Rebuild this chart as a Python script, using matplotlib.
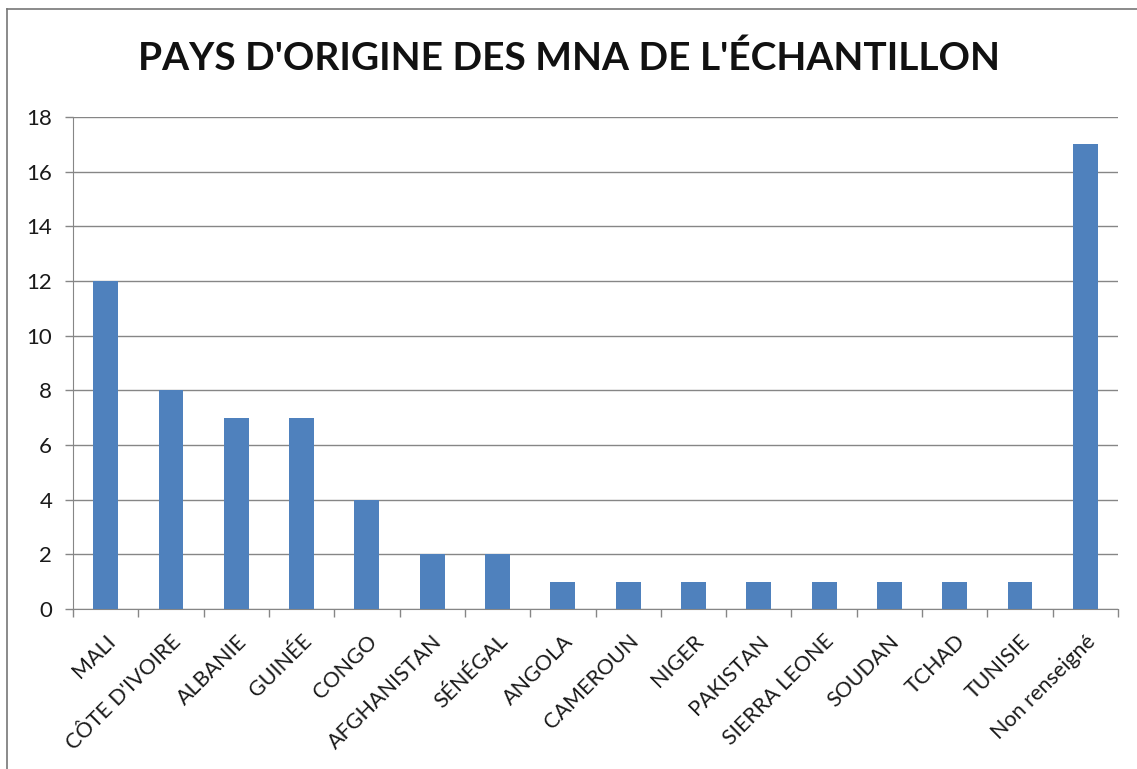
import numpy as np
import matplotlib
matplotlib.use("Agg")
from matplotlib import pyplot as plt
from matplotlib.lines import Line2D

pays = ["MALI", "CÔTE D'IVOIRE", "ALBANIE", "GUINÉE", "CONGO", "AFGHANISTAN",
        "SÉNÉGAL", "ANGOLA", "CAMEROUN", "NIGER", "PAKISTAN", "SIERRA LEONE",
        "SOUDAN", "TCHAD", "TUNISIE", "Non renseigné"]
effectifs = [12, 8, 7, 7, 4, 2, 2, 1, 1, 1, 1, 1, 1, 1, 1, 17]
yticks = [0, 2, 4, 6, 8, 10, 12, 14, 16, 18]

plt.rcParams['font.family'] = ['Lato', 'DejaVu Sans']
grey = '#868686'

fig = plt.figure(figsize=(11.37, 7.69), dpi=100)
ax = fig.add_axes([73/1137, 1 - 609/769, (1118-73)/1137, (609-117)/769])

x = np.arange(len(pays))
ax.bar(x, effectifs, width=0.38, color='#4F81BD', zorder=3)

ax.set_xlim(-0.5, len(pays) - 0.5)
ax.set_ylim(0, 18)
ax.set_yticks(yticks)
ax.set_yticklabels([str(v) for v in yticks], fontsize=16)
ax.yaxis.grid(True, color=grey, linewidth=1)
ax.tick_params(axis='y', length=6, color=grey, width=1, pad=9, labelcolor='#1a1a1a')

# category labels at centers, tick marks at boundaries
ax.set_xticks(x)
ax.set_xticklabels(pays, rotation=45, ha='right', rotation_mode='anchor', fontsize=15.5,
                   color='#1a1a1a')
ax.tick_params(axis='x', length=0, pad=16)
ax.set_xticks(np.arange(len(pays) + 1) - 0.5, minor=True)
ax.tick_params(axis='x', which='minor', length=6, color=grey, width=1)

for side in ['top', 'right']:
    ax.spines[side].set_visible(False)
for side in ['left', 'bottom']:
    ax.spines[side].set_color(grey)

fig.text(0.5, 1 - 58/769, "PAYS D'ORIGINE DES MNA DE L'ÉCHANTILLON",
         ha='center', va='center', fontsize=28, fontweight='bold', color='#111111')

# chart frame (top and left edges visible)
fig.add_artist(Line2D([7/1137, 7/1137], [0, 1 - 9/769], transform=fig.transFigure,
                      color='#777777', linewidth=1.2))
fig.add_artist(Line2D([7/1137, 1], [1 - 9/769, 1 - 9/769], transform=fig.transFigure,
                      color='#777777', linewidth=1.2))

fig.savefig('out.png', dpi=100)
